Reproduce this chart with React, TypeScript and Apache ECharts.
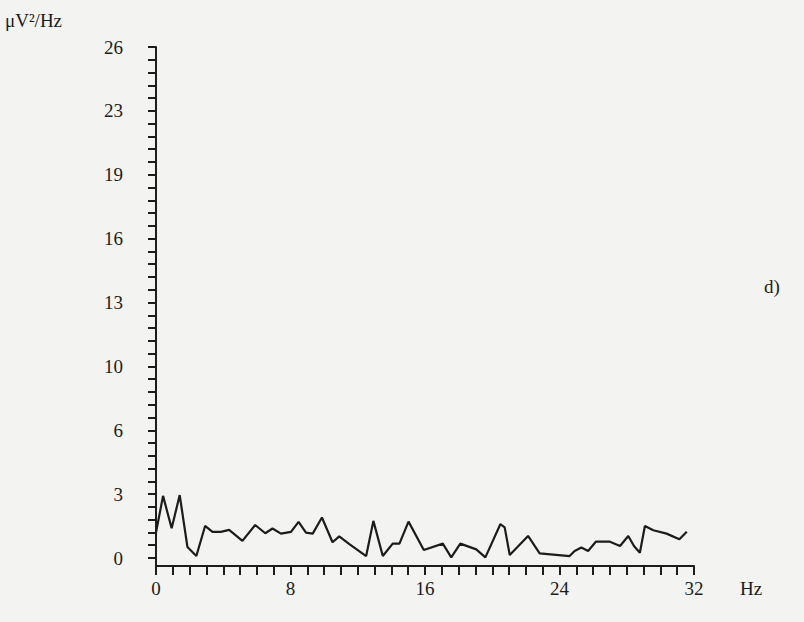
import React, { useEffect, useRef } from "react";
import * as echarts from "echarts";

const freqHz = [0, 0.42, 0.93, 1.41, 1.87, 2.4, 2.92, 3.36, 3.85, 4.35, 5.14, 5.9, 6.5, 6.93, 7.43, 8.03, 8.48, 8.92, 9.32, 9.87, 10.5, 10.9, 11.5, 12.5, 12.93, 13.49, 14.08, 14.48, 15.02, 15.93, 17.06, 17.56, 18.1, 19.05, 19.59, 20.48, 20.74, 21.04, 22.13, 22.82, 24.6, 24.9, 25.3, 25.7, 26.16, 27.0, 27.6, 28.09, 28.43, 28.78, 29.08, 29.58, 30.37, 31.13, 31.57];
const powerValues = [1.29, 3.16, 1.51, 3.2, 0.56, 0.1, 1.63, 1.33, 1.33, 1.43, 0.87, 1.68, 1.26, 1.5, 1.24, 1.33, 1.84, 1.29, 1.24, 2.06, 0.8, 1.1, 0.71, 0.1, 1.89, 0.1, 0.73, 0.73, 1.85, 0.41, 0.73, 0.03, 0.73, 0.44, 0.03, 1.72, 1.56, 0.15, 1.12, 0.24, 0.1, 0.36, 0.53, 0.36, 0.83, 0.83, 0.61, 1.12, 0.61, 0.27, 1.63, 1.41, 1.24, 0.95, 1.34];
const yTickLabels = ["0", "3", "6", "10", "13", "16", "19", "23", "26"];
const xTickLabels = ["0", "8", "16", "24", "32"];

const FONT = '"Liberation Serif", "Times New Roman", serif';
const INK = "#1c1c1c";

export default function App() {
  const ref = useRef<HTMLDivElement>(null);
  useEffect(() => {
    if (!ref.current) return;
    const chart = echarts.init(ref.current, null, { renderer: "svg" });
    const data = freqHz.map((f, i) => [f, powerValues[i]]);
    chart.setOption({
      animation: false,
      backgroundColor: "#f3f3f1",
      grid: { left: 156, right: 110, top: 47, bottom: 64, containLabel: false },
      xAxis: {
        type: "value",
        min: 0,
        max: 32,
        interval: 8,
        offset: 8,
        axisLine: { show: true, onZero: false, lineStyle: { color: INK, width: 2 } },
        axisTick: { show: true, length: 9, lineStyle: { color: INK, width: 2 } },
        minorTick: { show: true, splitNumber: 8, length: 9, lineStyle: { color: INK, width: 2 } },
        splitLine: { show: false },
        axisLabel: {
          margin: 13,
          color: INK,
          fontFamily: FONT,
          fontSize: 19,
          formatter: (v: number) => xTickLabels[Math.round(v / 8)] ?? "",
        },
      },
      yAxis: {
        type: "value",
        min: 0,
        max: 26,
        interval: 3.25,
        axisLine: { show: true, lineStyle: { color: INK, width: 2 } },
        axisTick: { show: true, length: 8, lineStyle: { color: INK, width: 2 } },
        minorTick: { show: true, splitNumber: 5, length: 8, lineStyle: { color: INK, width: 2 } },
        splitLine: { show: false },
        axisLabel: {
          margin: 33,
          color: INK,
          fontFamily: FONT,
          fontSize: 19,
          formatter: (v: number) => yTickLabels[Math.round(v / 3.25)] ?? "",
        },
      },
      graphic: [
        {
          type: "line",
          shape: { x1: 156, y1: 557, x2: 156, y2: 567 },
          style: { stroke: INK, lineWidth: 2 },
        },
        {
          type: "text",
          left: 5,
          top: 11,
          style: {
            text: "μV²/Hz",
            font: `19px ${FONT}`,
            fill: INK,
          },
        },
        {
          type: "text",
          left: 740,
          top: 579,
          style: { text: "Hz", font: `19px ${FONT}`, fill: INK },
        },
        {
          type: "text",
          left: 764,
          top: 277,
          style: { text: "d)", font: `19px ${FONT}`, fill: INK },
        },
      ],
      series: [
        {
          type: "line",
          data,
          showSymbol: false,
          symbol: "none",
          lineStyle: { color: INK, width: 2.2 },
        },
      ],
    });
    return () => chart.dispose();
  }, []);
  return (
    <div
      ref={ref}
      style={{ position: "fixed", left: 0, top: 0, width: 804, height: 622 }}
    />
  );
}
